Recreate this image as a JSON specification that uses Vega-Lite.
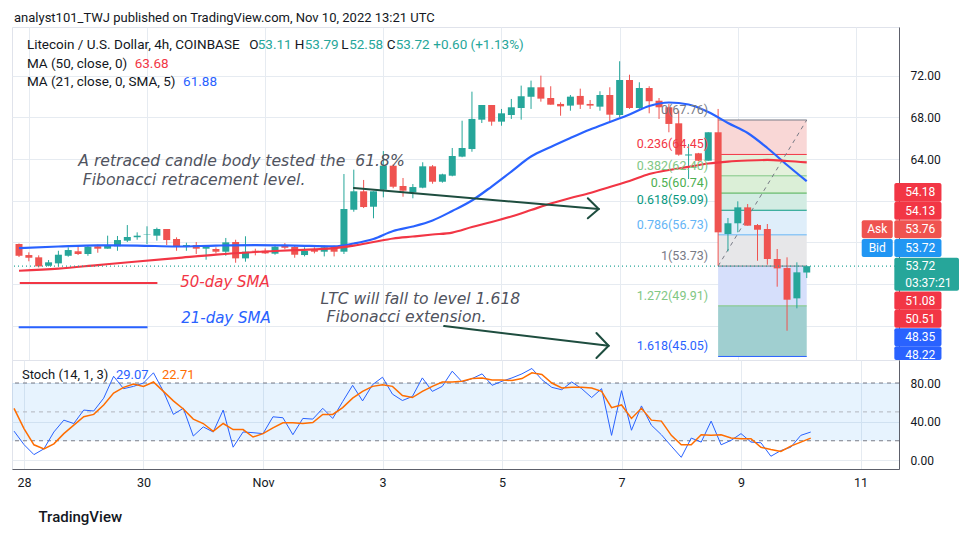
{
"$schema": "https://vega.github.io/schema/vega-lite/v6.json",
"padding": {"left": 10, "top": 11, "right": 0, "bottom": 40},
"title": {"text": "analyst101_TWJ published on TradingView.com, Nov 10, 2022 13:21 UTC", "anchor": "start", "frame": "group", "fontSize": 13, "fontWeight": "normal", "color": "#131722", "font": "Roboto", "dx": 2, "offset": 2},
"bounds": "flush",
"spacing": 0,
"config": {
  "font": "Roboto",
  "view": {"stroke": "#e0e3eb", "strokeWidth": 1},
  "axis": {"gridColor": "#e6ebf1", "gridWidth": 1, "labelColor": "#131722", "labelFont": "Roboto", "labelFontSize": 12, "ticks": false, "tickSize": 0, "domainColor": "#5d606b", "titleFont": "Roboto", "titleColor": "#131722", "titleFontWeight": "normal"}
},
"datasets": {
  "bars": [
    {"t":"2022-10-27T20:00:00Z","o":55.85,"h":55.9,"l":54.6,"c":54.72,"k":30,"d":53.7},
    {"t":"2022-10-28T00:00:00Z","o":54.79,"h":55.05,"l":54.19,"c":54.53,"k":16,"d":32.6},
    {"t":"2022-10-28T04:00:00Z","o":54.57,"h":54.76,"l":53.6,"c":53.7,"k":5.6,"d":15.8},
    {"t":"2022-10-28T08:00:00Z","o":53.76,"h":54.31,"l":53.7,"c":54.09,"k":11.6,"d":11.6},
    {"t":"2022-10-28T12:00:00Z","o":53.99,"h":55.2,"l":53.7,"c":54.82,"k":29.1,"d":16.8},
    {"t":"2022-10-28T16:00:00Z","o":54.72,"h":55.53,"l":54.63,"c":55.27,"k":41.4,"d":27.4},
    {"t":"2022-10-28T20:00:00Z","o":55.15,"h":55.63,"l":54.79,"c":54.89,"k":37.9,"d":36.2},
    {"t":"2022-10-29T00:00:00Z","o":54.89,"h":55.69,"l":54.72,"c":55.59,"k":51.9,"d":44.9},
    {"t":"2022-10-29T04:00:00Z","o":55.63,"h":55.79,"l":55.01,"c":55.4,"k":50.9,"d":47.4},
    {"t":"2022-10-29T08:00:00Z","o":55.4,"h":56.65,"l":55.4,"c":55.69,"k":64.2,"d":57.2},
    {"t":"2022-10-29T12:00:00Z","o":55.63,"h":56.62,"l":55.2,"c":56.23,"k":87.0,"d":69.5},
    {"t":"2022-10-29T16:00:00Z","o":56.17,"h":57.67,"l":56.04,"c":56.52,"k":74.1,"d":75.5},
    {"t":"2022-10-29T20:00:00Z","o":56.5,"h":56.97,"l":56.26,"c":56.65,"k":76.5,"d":79.0},
    {"t":"2022-10-30T00:00:00Z","o":56.72,"h":57.55,"l":55.85,"c":56.76,"k":80.0,"d":76.5},
    {"t":"2022-10-30T04:00:00Z","o":56.65,"h":57.42,"l":56.17,"c":57.29,"k":90.6,"d":81.1},
    {"t":"2022-10-30T08:00:00Z","o":57.29,"h":57.29,"l":55.75,"c":56.23,"k":71.3,"d":71.3},
    {"t":"2022-10-30T12:00:00Z","o":56.33,"h":56.49,"l":55.2,"c":55.59,"k":47.4,"d":61.4},
    {"t":"2022-10-30T16:00:00Z","o":55.56,"h":55.97,"l":55.2,"c":55.75,"k":53.7,"d":53.0},
    {"t":"2022-10-30T20:00:00Z","o":55.75,"h":56.04,"l":54.89,"c":55.4,"k":24.9,"d":42.5},
    {"t":"2022-10-31T00:00:00Z","o":55.4,"h":55.72,"l":54.34,"c":55.56,"k":34.4,"d":37.9},
    {"t":"2022-10-31T04:00:00Z","o":55.37,"h":55.53,"l":54.95,"c":55.11,"k":29.1,"d":29.8},
    {"t":"2022-10-31T08:00:00Z","o":55.11,"h":56.43,"l":54.72,"c":56.01,"k":51.9,"d":37.9},
    {"t":"2022-10-31T12:00:00Z","o":56.04,"h":56.26,"l":54.05,"c":54.47,"k":13.3,"d":31.6},
    {"t":"2022-10-31T16:00:00Z","o":54.47,"h":56.59,"l":54.15,"c":55.11,"k":29.1,"d":31.6},
    {"t":"2022-10-31T20:00:00Z","o":55.2,"h":55.4,"l":54.76,"c":55.15,"k":28.4,"d":23.9},
    {"t":"2022-11-01T00:00:00Z","o":55.2,"h":55.43,"l":54.89,"c":54.95,"k":27.4,"d":27.4},
    {"t":"2022-11-01T04:00:00Z","o":54.92,"h":55.79,"l":54.82,"c":55.59,"k":44.9,"d":33.3},
    {"t":"2022-11-01T08:00:00Z","o":55.72,"h":55.94,"l":55.34,"c":55.49,"k":43.9,"d":38.6},
    {"t":"2022-11-01T12:00:00Z","o":55.56,"h":55.66,"l":54.53,"c":54.82,"k":26.3,"d":38.6},
    {"t":"2022-11-01T16:00:00Z","o":54.79,"h":55.53,"l":54.66,"c":55.2,"k":43.2,"d":37.9},
    {"t":"2022-11-01T20:00:00Z","o":55.27,"h":55.53,"l":54.95,"c":55.11,"k":42.5,"d":39.0},
    {"t":"2022-11-02T00:00:00Z","o":55.11,"h":55.69,"l":54.66,"c":55.53,"k":53.7,"d":47.4},
    {"t":"2022-11-02T04:00:00Z","o":55.59,"h":55.69,"l":54.66,"c":55.11,"k":43.2,"d":47.4},
    {"t":"2022-11-02T08:00:00Z","o":55.11,"h":62.57,"l":54.89,"c":59.21,"k":60.7,"d":54.4},
    {"t":"2022-11-02T12:00:00Z","o":59.14,"h":62.99,"l":58.95,"c":60.91,"k":77.6,"d":64.2},
    {"t":"2022-11-02T16:00:00Z","o":60.91,"h":62.0,"l":59.3,"c":59.4,"k":61.4,"d":71.3},
    {"t":"2022-11-02T20:00:00Z","o":59.43,"h":60.91,"l":58.32,"c":60.91,"k":78.3,"d":76.5},
    {"t":"2022-11-03T00:00:00Z","o":61.06,"h":64.78,"l":60.33,"c":63.37,"k":86.0,"d":78.3},
    {"t":"2022-11-03T04:00:00Z","o":63.37,"h":63.5,"l":61.2,"c":61.35,"k":68.4,"d":76.5},
    {"t":"2022-11-03T08:00:00Z","o":61.42,"h":62.19,"l":60.39,"c":60.97,"k":61.8,"d":67.0},
    {"t":"2022-11-03T12:00:00Z","o":60.81,"h":61.61,"l":60.24,"c":61.32,"k":66.0,"d":64.9},
    {"t":"2022-11-03T16:00:00Z","o":61.26,"h":63.7,"l":61.2,"c":63.31,"k":85.3,"d":71.3},
    {"t":"2022-11-03T20:00:00Z","o":63.31,"h":63.43,"l":61.64,"c":61.83,"k":71.3,"d":76.5},
    {"t":"2022-11-04T00:00:00Z","o":61.83,"h":62.6,"l":61.74,"c":62.54,"k":76.5,"d":81.1},
    {"t":"2022-11-04T04:00:00Z","o":62.41,"h":65.07,"l":62.35,"c":64.3,"k":92.3,"d":81.1},
    {"t":"2022-11-04T08:00:00Z","o":64.24,"h":67.69,"l":64.18,"c":65.07,"k":81.1,"d":81.8},
    {"t":"2022-11-04T12:00:00Z","o":64.97,"h":70.48,"l":64.71,"c":67.86,"k":84.6,"d":84.6},
    {"t":"2022-11-04T16:00:00Z","o":67.79,"h":69.2,"l":67.47,"c":69.2,"k":89.5,"d":85.3},
    {"t":"2022-11-04T20:00:00Z","o":69.2,"h":69.2,"l":67.21,"c":67.6,"k":77.6,"d":83.2},
    {"t":"2022-11-05T00:00:00Z","o":67.6,"h":68.82,"l":67.21,"c":68.4,"k":81.8,"d":83.2},
    {"t":"2022-11-05T04:00:00Z","o":68.24,"h":69.78,"l":67.86,"c":68.98,"k":85.3,"d":82.5},
    {"t":"2022-11-05T08:00:00Z","o":68.91,"h":71.06,"l":67.79,"c":70.04,"k":89.5,"d":84.6},
    {"t":"2022-11-05T12:00:00Z","o":69.99,"h":71.54,"l":68.82,"c":70.9,"k":95.1,"d":90.6},
    {"t":"2022-11-05T16:00:00Z","o":70.9,"h":72.02,"l":69.52,"c":69.81,"k":83.5,"d":88.8},
    {"t":"2022-11-05T20:00:00Z","o":69.87,"h":71.0,"l":69.23,"c":69.23,"k":75.5,"d":80.0},
    {"t":"2022-11-06T00:00:00Z","o":69.3,"h":69.46,"l":68.17,"c":69.07,"k":73.0,"d":74.8},
    {"t":"2022-11-06T04:00:00Z","o":69.14,"h":70.16,"l":68.65,"c":70.0,"k":81.1,"d":75.5},
    {"t":"2022-11-06T08:00:00Z","o":70.07,"h":70.77,"l":68.82,"c":69.23,"k":74.1,"d":75.5},
    {"t":"2022-11-06T12:00:00Z","o":69.3,"h":69.68,"l":68.82,"c":69.14,"k":64.9,"d":74.8},
    {"t":"2022-11-06T16:00:00Z","o":69.04,"h":70.52,"l":68.65,"c":70.16,"k":74.1,"d":71.3},
    {"t":"2022-11-06T20:00:00Z","o":70.16,"h":70.9,"l":67.53,"c":68.27,"k":25.6,"d":54.4},
    {"t":"2022-11-07T00:00:00Z","o":68.24,"h":73.4,"l":68.02,"c":71.6,"k":72.0,"d":57.2},
    {"t":"2022-11-07T04:00:00Z","o":71.6,"h":72.11,"l":68.82,"c":68.91,"k":30.9,"d":43.2},
    {"t":"2022-11-07T08:00:00Z","o":68.91,"h":71.38,"l":68.82,"c":70.83,"k":56.2,"d":53.7},
    {"t":"2022-11-07T12:00:00Z","o":70.83,"h":71.0,"l":68.4,"c":69.56,"k":36.2,"d":41.4},
    {"t":"2022-11-07T16:00:00Z","o":69.61,"h":69.87,"l":67.86,"c":68.98,"k":26.3,"d":40.4},
    {"t":"2022-11-07T20:00:00Z","o":68.98,"h":69.3,"l":66.58,"c":67.38,"k":14.4,"d":25.6},
    {"t":"2022-11-08T00:00:00Z","o":67.44,"h":68.65,"l":64.33,"c":64.43,"k":2.8,"d":15.8},
    {"t":"2022-11-08T04:00:00Z","o":64.35,"h":65.45,"l":62.09,"c":64.45,"k":22.8,"d":15.8},
    {"t":"2022-11-08T08:00:00Z","o":64.56,"h":64.6,"l":63.8,"c":63.85,"k":18.6,"d":26.3},
    {"t":"2022-11-08T12:00:00Z","o":63.85,"h":66.58,"l":63.85,"c":66.58,"k":40.4,"d":25.6},
    {"t":"2022-11-08T16:00:00Z","o":66.58,"h":68.82,"l":53.76,"c":56.97,"k":15.8,"d":26.3},
    {"t":"2022-11-08T20:00:00Z","o":56.81,"h":58.35,"l":55.15,"c":57.84,"k":20.4,"d":22.8},
    {"t":"2022-11-09T00:00:00Z","o":57.84,"h":59.95,"l":56.97,"c":59.37,"k":27.4,"d":22.1},
    {"t":"2022-11-09T04:00:00Z","o":59.37,"h":59.69,"l":57.61,"c":57.61,"k":18.6,"d":22.1},
    {"t":"2022-11-09T08:00:00Z","o":57.67,"h":57.77,"l":54.24,"c":57.22,"k":17.9,"d":13.3},
    {"t":"2022-11-09T12:00:00Z","o":57.29,"h":57.77,"l":53.86,"c":54.41,"k":3.9,"d":10.9},
    {"t":"2022-11-09T16:00:00Z","o":54.41,"h":55.37,"l":51.75,"c":53.51,"k":9.8,"d":8.8},
    {"t":"2022-11-09T20:00:00Z","o":53.54,"h":54.57,"l":47.52,"c":50.5,"k":13.3,"d":14.4},
    {"t":"2022-11-10T00:00:00Z","o":50.63,"h":54.09,"l":49.67,"c":53.13,"k":25.6,"d":18.6},
    {"t":"2022-11-10T04:00:00Z","o":53.11,"h":53.79,"l":52.58,"c":53.72,"k":29.07,"d":22.71}
  ],
  "ma": [
    {"t":"2022-10-27T20:00:00Z","a":55.46,"b":53.28},
    {"t":"2022-10-28T12:00:00Z","a":55.61,"b":53.49},
    {"t":"2022-10-29T04:00:00Z","a":55.72,"b":53.83},
    {"t":"2022-10-29T20:00:00Z","a":55.7,"b":54.17},
    {"t":"2022-10-30T12:00:00Z","a":55.61,"b":54.5},
    {"t":"2022-10-31T04:00:00Z","a":55.7,"b":54.83},
    {"t":"2022-10-31T20:00:00Z","a":55.75,"b":55.08},
    {"t":"2022-11-01T12:00:00Z","a":55.7,"b":55.27},
    {"t":"2022-11-02T04:00:00Z","a":55.63,"b":55.46},
    {"t":"2022-11-02T12:00:00Z","a":55.9,"b":55.7},
    {"t":"2022-11-02T20:00:00Z","a":56.33,"b":56.04},
    {"t":"2022-11-03T04:00:00Z","a":57.1,"b":56.38},
    {"t":"2022-11-03T12:00:00Z","a":57.53,"b":56.57},
    {"t":"2022-11-03T20:00:00Z","a":58.11,"b":56.76},
    {"t":"2022-11-04T04:00:00Z","a":59.02,"b":56.95},
    {"t":"2022-11-04T12:00:00Z","a":60.03,"b":57.48},
    {"t":"2022-11-04T20:00:00Z","a":61.37,"b":57.96},
    {"t":"2022-11-05T04:00:00Z","a":62.81,"b":58.49},
    {"t":"2022-11-05T12:00:00Z","a":64.25,"b":59.11},
    {"t":"2022-11-05T20:00:00Z","a":65.17,"b":59.74},
    {"t":"2022-11-06T04:00:00Z","a":66.03,"b":60.27},
    {"t":"2022-11-06T12:00:00Z","a":66.85,"b":60.75},
    {"t":"2022-11-06T20:00:00Z","a":67.57,"b":61.32},
    {"t":"2022-11-07T04:00:00Z","a":68.29,"b":61.9},
    {"t":"2022-11-07T12:00:00Z","a":69.1,"b":62.57},
    {"t":"2022-11-07T20:00:00Z","a":69.44,"b":62.96},
    {"t":"2022-11-08T04:00:00Z","a":69.25,"b":63.25},
    {"t":"2022-11-08T12:00:00Z","a":68.53,"b":63.58},
    {"t":"2022-11-08T20:00:00Z","a":67.47,"b":63.77},
    {"t":"2022-11-09T04:00:00Z","a":66.51,"b":63.87},
    {"t":"2022-11-09T12:00:00Z","a":65.07,"b":63.92},
    {"t":"2022-11-09T20:00:00Z","a":63.44,"b":63.82},
    {"t":"2022-11-10T04:00:00Z","a":61.88,"b":63.68}
  ],
  "fib": [
    {"r":"0","p":67.76,"lbl":"0(67.76)"},
    {"r":"0.236","p":64.45,"lbl":"0.236(64.45)"},
    {"r":"0.382","p":62.40,"lbl":"0.382(62.40)"},
    {"r":"0.5","p":60.74,"lbl":"0.5(60.74)"},
    {"r":"0.618","p":59.09,"lbl":"0.618(59.09)"},
    {"r":"0.786","p":56.73,"lbl":"0.786(56.73)"},
    {"r":"1","p":53.73,"lbl":"1(53.73)"},
    {"r":"1.272","p":49.91,"lbl":"1.272(49.91)"},
    {"r":"1.618","p":45.05,"lbl":"1.618(45.05)"}
  ],
  "fibband": [
    {"b":"0.236","p":67.76,"p2":64.45},
    {"b":"0.382","p":64.45,"p2":62.40},
    {"b":"0.5","p":62.40,"p2":60.74},
    {"b":"0.618","p":60.74,"p2":59.09},
    {"b":"0.786","p":59.09,"p2":56.73},
    {"b":"1","p":56.73,"p2":53.73},
    {"b":"1.272","p":53.73,"p2":49.91},
    {"b":"1.618","p":49.91,"p2":45.05}
  ],
  "hdr": [
    {"t":"2022-10-27T23:12:00Z","p":74.96,"txt":"Litecoin / U.S. Dollar, 4h, COINBASE","s":"lab"},
    {"t":"2022-10-31T17:34:00Z","p":74.96,"txt":"O","s":"lab"},
    {"t":"2022-10-31T20:59:00Z","p":74.96,"txt":"53.11","s":"up"},
    {"t":"2022-11-01T12:03:00Z","p":74.96,"txt":"H","s":"lab"},
    {"t":"2022-11-01T16:04:00Z","p":74.96,"txt":"53.79","s":"up"},
    {"t":"2022-11-02T06:56:00Z","p":74.96,"txt":"L","s":"lab"},
    {"t":"2022-11-02T10:08:00Z","p":74.96,"txt":"52.58","s":"up"},
    {"t":"2022-11-03T01:24:00Z","p":74.96,"txt":"C","s":"lab"},
    {"t":"2022-11-03T05:01:00Z","p":74.96,"txt":"53.72","s":"up"},
    {"t":"2022-11-03T20:17:00Z","p":74.96,"txt":"+0.60 (+1.13%)","s":"up"},
    {"t":"2022-10-27T23:12:00Z","p":73.14,"txt":"MA (50, close, 0)","s":"lab"},
    {"t":"2022-10-29T18:59:00Z","p":73.14,"txt":"63.68","s":"ma50"},
    {"t":"2022-10-27T23:12:00Z","p":71.38,"txt":"MA (21, close, 0, SMA, 5)","s":"lab"},
    {"t":"2022-10-30T14:40:00Z","p":71.38,"txt":"61.88","s":"ma21"}
  ],
  "ann": [
    {"t":"2022-10-28T20:05:00Z","p":63.79,"txt":"A retraced candle body tested the \u00a061.8%","s":"note"},
    {"t":"2022-10-28T21:54:00Z","p":62.0,"txt":"Fibonacci retracement level.","s":"note"},
    {"t":"2022-10-30T13:28:00Z","p":52.17,"txt":"50-day SMA","s":"ma50"},
    {"t":"2022-10-30T13:52:00Z","p":48.71,"txt":"21-day SMA","s":"ma21"},
    {"t":"2022-11-01T22:30:00Z","p":50.57,"txt":"LTC will fall to level 1.618","s":"note"},
    {"t":"2022-11-02T00:54:00Z","p":48.84,"txt":"Fibonacci extension.","s":"note"}
  ],
  "leg": [
    {"t":"2022-10-27T20:18:00Z","t2":"2022-10-30T04:13:00Z","p":52.1,"s":"ma50"},
    {"t":"2022-10-27T19:52:00Z","t2":"2022-10-30T00:12:00Z","p":47.85,"s":"ma21"}
  ],
  "arrows": [
    {"t":"2022-11-02T12:02:00Z","p":61.23,"t2":"2022-11-06T15:29:00Z","p2":59.21},
    {"t":"2022-11-06T11:04:00Z","p":60.24,"t2":"2022-11-06T15:29:00Z","p2":59.21},
    {"t":"2022-11-06T11:04:00Z","p":58.32,"t2":"2022-11-06T15:29:00Z","p2":59.21},
    {"t":"2022-11-04T00:42:00Z","p":47.97,"t2":"2022-11-06T19:30:00Z","p2":46.08},
    {"t":"2022-11-06T14:34:00Z","p":47.3,"t2":"2022-11-06T19:30:00Z","p2":46.08},
    {"t":"2022-11-06T14:34:00Z","p":44.9,"t2":"2022-11-06T19:30:00Z","p2":46.08}
  ],
  "tags": [
    {"k":"sell","p":61.71,"p2":59.91},
    {"k":"sell","p":59.91,"p2":58.18},
    {"k":"ask","p":58.12,"p2":56.4},
    {"k":"bid","p":56.33,"p2":54.6},
    {"k":"sell","p":51.3,"p2":49.53},
    {"k":"sell","p":49.53,"p2":47.81},
    {"k":"buy","p":47.75,"p2":46.02},
    {"k":"buy","p":46.02,"p2":44.71}
  ],
  "tagtxt": [
    {"txt":"54.18","p":60.81},
    {"txt":"54.13","p":59.05},
    {"txt":"53.76","p":57.26},
    {"txt":"53.72","p":55.46},
    {"txt":"53.72","p":53.73},
    {"txt":"03:37:21","p":52.1},
    {"txt":"51.08","p":50.42},
    {"txt":"50.51","p":48.67},
    {"txt":"48.35","p":46.89},
    {"txt":"48.22","p":45.19}
  ],
  "side": [
    {"k":"ask","txt":"Ask","p":58.12,"p2":56.4,"m":57.26},
    {"k":"bid","txt":"Bid","p":56.33,"p2":54.6,"m":55.46}
  ],
  "stx": [
    {"t":"2022-10-27T23:12:00Z","v":88.3,"txt":"Stoch (14, 1, 3)","s":"lab"},
    {"t":"2022-10-29T12:57:00Z","v":88.3,"txt":"29.07","s":"k"},
    {"t":"2022-10-30T07:26:00Z","v":88.3,"txt":"22.71","s":"d"}
  ],
  "band": [{"lo":20,"hi":80}],
  "lvls": [{"lv":80,"s":"a"},{"lv":50,"s":"b"},{"lv":20,"s":"a"}]
},
"vconcat": [
  {
    "width": 887, "height": 333,
    "resolve": {"scale": {"color": "independent", "fill": "independent", "stroke": "independent"}},
    "layer": [
      {"data": {"name": "fibband"}, "mark": {"type": "rect"},
       "encoding": {
         "x": {"datum": {"year":2022,"month":11,"date":8,"hours":16,"utc":true}, "type": "temporal", "title": null},
         "x2": {"datum": {"year":2022,"month":11,"date":10,"hours":4,"utc":true}},
         "y": {"field": "p", "type": "quantitative", "title": null},
         "y2": {"field": "p2"},
         "fill": {"field": "b", "type": "nominal", "legend": null, "scale": {"domain": ["0.236","0.382","0.5","0.618","0.786","1","1.272","1.618"], "range": ["#f9d7d6","#e4f1dc","#dbefd7","#d3ece3","#dfeefa","#e7e7e9","#d6dffb","#a0cfd0"]}}
       }},
      {"data": {"name": "fib"}, "mark": {"type": "rule", "strokeWidth": 1},
       "encoding": {
         "x": {"datum": {"year":2022,"month":11,"date":8,"hours":16,"utc":true}, "type": "temporal", "title": null},
         "x2": {"datum": {"year":2022,"month":11,"date":10,"hours":4,"utc":true}},
         "y": {"field": "p", "type": "quantitative", "title": null},
         "stroke": {"field": "r", "type": "nominal", "legend": null, "scale": {"domain": ["0","0.236","0.382","0.5","0.618","0.786","1","1.272","1.618"], "range": ["#787b86","#f23645","#81c784","#4caf50","#089981","#64b5f6","#787b86","#81c784","#2962ff"]}}
       }},
      {"data": {"values": [{}]}, "mark": {"type": "rule", "color": "#787b86", "strokeDash": [4, 4], "strokeWidth": 1},
       "encoding": {
         "x": {"datum": {"year":2022,"month":11,"date":8,"hours":16,"utc":true}, "type": "temporal", "title": null},
         "x2": {"datum": {"year":2022,"month":11,"date":10,"hours":4,"utc":true}},
         "y": {"datum": 53.73, "type": "quantitative", "title": null},
         "y2": {"datum": 67.76}
       }},
      {"data": {"name": "bars"}, "mark": {"type": "rule", "strokeWidth": 1},
       "encoding": {
         "x": {"field": "t", "type": "temporal", "title": null,
               "scale": {"type": "utc", "domain": [{"year":2022,"month":10,"date":27,"hours":19,"minutes":11,"utc":true},{"year":2022,"month":11,"date":11,"hours":15,"minutes":27,"utc":true}]},
               "axis": {"values": [{"year":2022,"month":10,"date":28,"utc":true},{"year":2022,"month":10,"date":30,"utc":true},{"year":2022,"month":11,"date":1,"utc":true},{"year":2022,"month":11,"date":3,"utc":true},{"year":2022,"month":11,"date":5,"utc":true},{"year":2022,"month":11,"date":7,"utc":true},{"year":2022,"month":11,"date":9,"utc":true},{"year":2022,"month":11,"date":11,"utc":true}], "labels": false, "domain": false, "grid": true, "title": null}},
         "y": {"field": "l", "type": "quantitative",
               "scale": {"domain": [44.71, 76.69], "nice": false, "zero": false},
               "axis": {"orient": "right", "values": [48, 52, 56, 60, 64, 68, 72], "format": ".2f", "labelExpr": "datum.value < 62 ? '' : datum.label", "grid": true, "domain": true, "labelPadding": 11, "title": "USD", "titleAngle": 0, "titleAlign": "left", "titleBaseline": "middle", "titleX": 11, "titleY": 16, "titleFontSize": 12}},
         "y2": {"field": "h"},
         "color": {"condition": {"test": "datum.c >= datum.o", "value": "#26a69a"}, "value": "#ef5350"}
       }},
      {"data": {"name": "bars"}, "mark": {"type": "bar", "size": 7},
       "encoding": {
         "x": {"field": "t", "type": "temporal", "title": null},
         "y": {"field": "o", "type": "quantitative", "title": null},
         "y2": {"field": "c"},
         "color": {"condition": {"test": "datum.c >= datum.o", "value": "#26a69a"}, "value": "#ef5350"}
       }},
      {"data": {"name": "ma"}, "mark": {"type": "line", "color": "#2962ff", "strokeWidth": 2.2, "interpolate": "monotone"},
       "encoding": {
         "x": {"field": "t", "type": "temporal", "title": null},
         "y": {"field": "a", "type": "quantitative", "title": null}
       }},
      {"data": {"name": "ma"}, "mark": {"type": "line", "color": "#f23645", "strokeWidth": 2.2, "interpolate": "monotone"},
       "encoding": {
         "x": {"field": "t", "type": "temporal", "title": null},
         "y": {"field": "b", "type": "quantitative", "title": null}
       }},
      {"data": {"values": [{}]}, "mark": {"type": "rule", "color": "#26a69a", "strokeDash": [1, 3], "strokeWidth": 1.2},
       "encoding": {"y": {"datum": 53.72, "type": "quantitative", "title": null}}},
      {"data": {"name": "fib"}, "mark": {"type": "text", "align": "right", "baseline": "bottom", "dx": -10, "dy": -3, "fontSize": 12.5, "font": "Roboto"},
       "encoding": {
         "x": {"datum": {"year":2022,"month":11,"date":8,"hours":16,"utc":true}, "type": "temporal", "title": null},
         "y": {"field": "p", "type": "quantitative", "title": null},
         "text": {"field": "lbl"},
         "color": {"field": "r", "type": "nominal", "legend": null, "scale": {"domain": ["0","0.236","0.382","0.5","0.618","0.786","1","1.272","1.618"], "range": ["#787b86","#f23645","#81c784","#4caf50","#089981","#64b5f6","#787b86","#81c784","#2962ff"]}}
       }},
      {"data": {"name": "leg"}, "mark": {"type": "rule", "strokeWidth": 2},
       "encoding": {
         "x": {"field": "t", "type": "temporal", "title": null},
         "x2": {"field": "t2"},
         "y": {"field": "p", "type": "quantitative", "title": null},
         "stroke": {"field": "s", "type": "nominal", "legend": null, "scale": {"domain": ["ma50", "ma21"], "range": ["#f23645", "#2962ff"]}}
       }},
      {"data": {"name": "ann"}, "transform": [{"filter": "datum.s == 'note'"}],
       "mark": {"type": "text", "align": "left", "baseline": "middle", "fontSize": 15.6, "fontStyle": "italic", "font": "DejaVu Sans", "color": "#50535e"},
       "encoding": {
         "x": {"field": "t", "type": "temporal", "title": null},
         "y": {"field": "p", "type": "quantitative", "title": null},
         "text": {"field": "txt"}
       }},
      {"data": {"name": "ann"}, "transform": [{"filter": "datum.s != 'note'"}],
       "mark": {"type": "text", "align": "left", "baseline": "middle", "fontSize": 15, "fontStyle": "italic", "font": "DejaVu Sans"},
       "encoding": {
         "x": {"field": "t", "type": "temporal", "title": null},
         "y": {"field": "p", "type": "quantitative", "title": null},
         "text": {"field": "txt"},
         "color": {"field": "s", "type": "nominal", "legend": null, "scale": {"domain": ["ma50", "ma21"], "range": ["#f23645", "#2962ff"]}}
       }},
      {"data": {"name": "arrows"}, "mark": {"type": "rule", "color": "#1e4d3f", "strokeWidth": 2, "strokeCap": "round"},
       "encoding": {
         "x": {"field": "t", "type": "temporal", "title": null},
         "x2": {"field": "t2"},
         "y": {"field": "p", "type": "quantitative", "title": null},
         "y2": {"field": "p2"}
       }},
      {"data": {"name": "hdr"}, "mark": {"type": "text", "align": "left", "baseline": "middle", "fontSize": 13.5, "font": "Roboto"},
       "encoding": {
         "x": {"field": "t", "type": "temporal", "title": null},
         "y": {"field": "p", "type": "quantitative", "title": null},
         "text": {"field": "txt"},
         "color": {"field": "s", "type": "nominal", "legend": null, "scale": {"domain": ["lab", "up", "ma50", "ma21"], "range": ["#131722", "#26a69a", "#f23645", "#2962ff"]}}
       }},
      {"data": {"name": "tags"}, "mark": {"type": "rect", "cornerRadius": 2},
       "encoding": {
         "x": {"datum": {"year":2022,"month":11,"date":11,"hours":15,"minutes":35,"utc":true}, "type": "temporal", "title": null},
         "x2": {"datum": {"year":2022,"month":11,"date":12,"hours":10,"minutes":44,"utc":true}},
         "y": {"field": "p", "type": "quantitative", "title": null},
         "y2": {"field": "p2"},
         "fill": {"field": "k", "type": "nominal", "legend": null, "scale": {"domain": ["sell", "ask", "bid", "buy"], "range": ["#f23645", "#ef5350", "#2196f3", "#2962ff"]}}
       }},
      {"data": {"values": [{}]}, "mark": {"type": "rect", "cornerRadius": 2, "color": "#26a69a"},
       "encoding": {
         "x": {"datum": {"year":2022,"month":11,"date":11,"hours":15,"minutes":35,"utc":true}, "type": "temporal", "title": null},
         "x2": {"datum": {"year":2022,"month":11,"date":12,"hours":17,"minutes":51,"utc":true}},
         "y": {"datum": 54.53, "type": "quantitative", "title": null},
         "y2": {"datum": 51.36}
       }},
      {"data": {"name": "side"}, "mark": {"type": "rect", "cornerRadius": 2},
       "encoding": {
         "x": {"datum": {"year":2022,"month":11,"date":11,"hours":2,"minutes":20,"utc":true}, "type": "temporal", "title": null},
         "x2": {"datum": {"year":2022,"month":11,"date":11,"hours":14,"minutes":56,"utc":true}},
         "y": {"field": "p", "type": "quantitative", "title": null},
         "y2": {"field": "p2"},
         "fill": {"field": "k", "type": "nominal", "legend": null, "scale": {"domain": ["ask", "bid"], "range": ["#ef5350", "#2196f3"]}}
       }},
      {"data": {"name": "tagtxt"}, "mark": {"type": "text", "align": "left", "baseline": "middle", "fontSize": 12, "font": "Roboto", "color": "#ffffff"},
       "encoding": {
         "x": {"datum": {"year":2022,"month":11,"date":11,"hours":20,"utc":true}, "type": "temporal", "title": null},
         "y": {"field": "p", "type": "quantitative", "title": null},
         "text": {"field": "txt"}
       }},
      {"data": {"name": "side"}, "mark": {"type": "text", "align": "center", "baseline": "middle", "fontSize": 12, "font": "Roboto", "color": "#ffffff"},
       "encoding": {
         "x": {"datum": {"year":2022,"month":11,"date":11,"hours":8,"minutes":38,"utc":true}, "type": "temporal", "title": null},
         "y": {"field": "m", "type": "quantitative", "title": null},
         "text": {"field": "txt"}
       }}
    ]
  },
  {
    "width": 887, "height": 109,
    "resolve": {"scale": {"color": "independent", "stroke": "independent"}},
    "layer": [
      {"data": {"name": "band"}, "mark": {"type": "rect", "color": "#2196f3", "opacity": 0.11},
       "encoding": {
         "y": {"field": "lo", "type": "quantitative", "title": null,
               "scale": {"domain": [-9.35, 103.9], "nice": false, "zero": false},
               "axis": {"orient": "right", "values": [0, 40, 80], "format": ".2f", "grid": true, "domain": true, "labelPadding": 11, "title": null}},
         "y2": {"field": "hi"}
       }},
      {"data": {"name": "lvls"}, "mark": {"type": "rule", "strokeDash": [4, 4], "strokeWidth": 1},
       "encoding": {
         "y": {"field": "lv", "type": "quantitative", "title": null},
         "stroke": {"field": "s", "type": "nominal", "legend": null, "scale": {"domain": ["a", "b"], "range": ["#787b86", "#b2b5be"]}}
       }},
      {"data": {"name": "bars"}, "mark": {"type": "line", "color": "#2962ff", "strokeWidth": 1},
       "encoding": {
         "x": {"field": "t", "type": "temporal", "title": "TradingView",
               "scale": {"type": "utc", "domain": [{"year":2022,"month":10,"date":27,"hours":19,"minutes":11,"utc":true},{"year":2022,"month":11,"date":11,"hours":15,"minutes":27,"utc":true}]},
               "axis": {"values": [{"year":2022,"month":10,"date":28,"utc":true},{"year":2022,"month":10,"date":30,"utc":true},{"year":2022,"month":11,"date":1,"utc":true},{"year":2022,"month":11,"date":3,"utc":true},{"year":2022,"month":11,"date":5,"utc":true},{"year":2022,"month":11,"date":7,"utc":true},{"year":2022,"month":11,"date":9,"utc":true},{"year":2022,"month":11,"date":11,"utc":true}],
                        "labelExpr": "utcdate(datum.value) == 1 ? utcFormat(datum.value, '%b') : utcFormat(datum.value, '%-d')",
                        "grid": true, "domain": true, "labelPadding": 7, "labelFontSize": 12.5,
                        "title": "TradingView", "titleAnchor": "start", "titleAlign": "left", "titleBaseline": "middle", "titleX": 26, "titleY": 47, "titleFontSize": 15, "titleFontWeight": 500, "titleColor": "#131722"}},
         "y": {"field": "k", "type": "quantitative", "title": null}
       }},
      {"data": {"name": "bars"}, "mark": {"type": "line", "color": "#ff6d00", "strokeWidth": 1.5},
       "encoding": {
         "x": {"field": "t", "type": "temporal", "title": "TradingView"},
         "y": {"field": "d", "type": "quantitative", "title": null}
       }},
      {"data": {"name": "stx"}, "mark": {"type": "text", "align": "left", "baseline": "middle", "fontSize": 13, "font": "Roboto"},
       "encoding": {
         "x": {"field": "t", "type": "temporal", "title": "TradingView"},
         "y": {"field": "v", "type": "quantitative", "title": null},
         "text": {"field": "txt"},
         "color": {"field": "s", "type": "nominal", "legend": null, "scale": {"domain": ["lab", "k", "d"], "range": ["#131722", "#2962ff", "#ff6d00"]}}
       }}
    ]
  }
]
}
